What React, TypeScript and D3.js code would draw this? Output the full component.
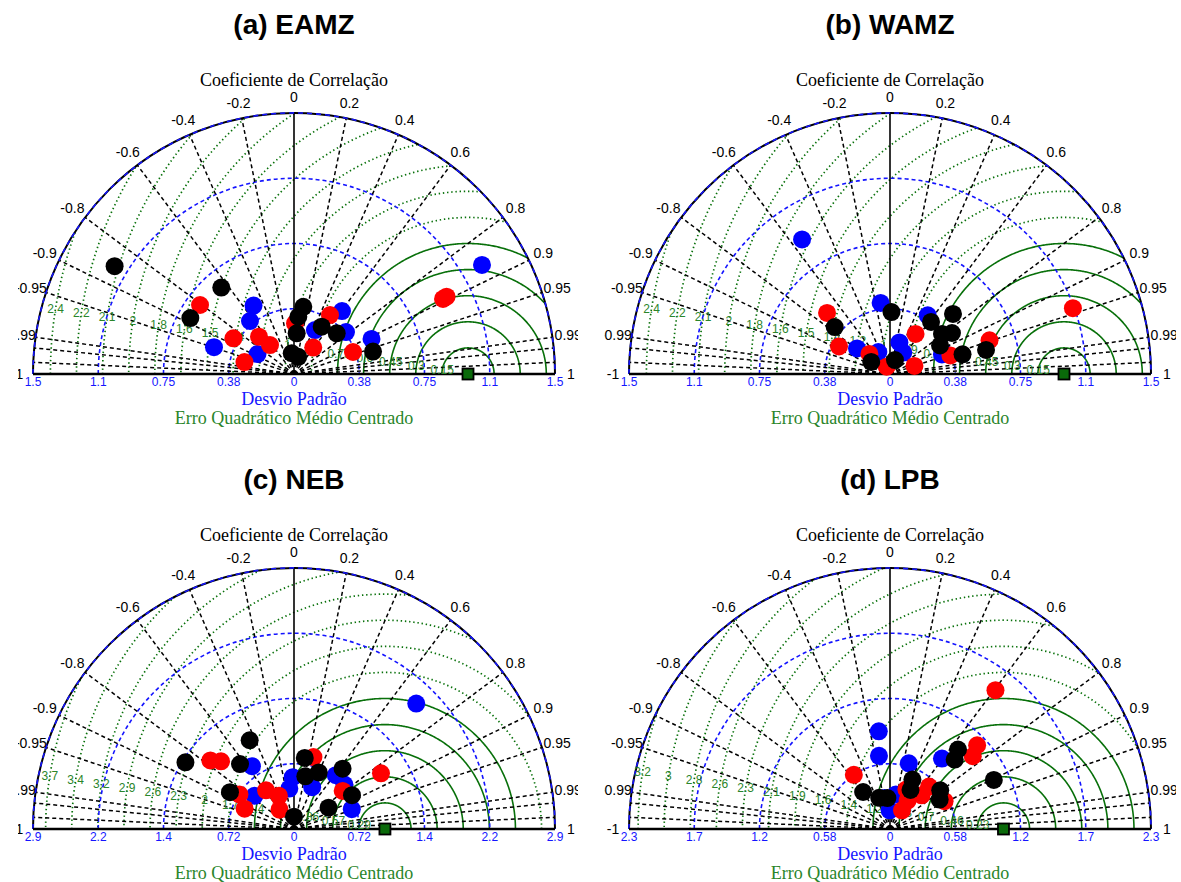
import React from "react";
import * as d3 from "d3";

// ---- panel meta ----
const panelTitles = ["(a) EAMZ", "(b) WAMZ", "(c) NEB", "(d) LPB"];
const stdMaxima = [1.5, 1.5, 2.87, 2.3];
const referenceStd = 1.0;

// radial (standard deviation) tick labels at 0, 1/4, 1/2, 3/4 and full radius
const stdTickLabelsAB = ["0", "0.38", "0.75", "1.1", "1.5"];
const stdTickLabelsC = ["0", "0.72", "1.4", "2.2", "2.9"];
const stdTickLabelsD = ["0", "0.58", "1.2", "1.7", "2.3"];

// centred RMS contour labels (one per contour, contours every stdMax/10)
const rmsLabelsAB = ["0.15", "0.3", "0.45", "0.6", "0.75", "0.9", "1", "1.2", "1.4", "1.5", "1.6", "1.8", "2", "2.1", "2.2", "2.4"];
const rmsLabelsC = ["0.29", "0.57", "0.86", "1.1", "1.4", "1.7", "2", "2.3", "2.6", "2.9", "3.2", "3.4", "3.7"];
const rmsLabelsD = ["0.23", "0.46", "0.7", "0.93", "1.2", "1.4", "1.6", "1.9", "2.1", "2.3", "2.6", "2.8", "3", "3.2"];

// correlation grid
const corrTicks = [0.2, 0.4, 0.6, 0.8, 0.9, 0.95, 0.99];
const corrExtraLines = [0.995, 0.999];

// ---- data: [normalised standard deviation, correlation] ----
const eamzBlack = [[1.203, -0.857], [0.649, -0.644], [0.677, -0.88], [0.39, 0.137], [0.33, 0.075], [0.234, 0.066], [0.12, -0.11], [0.102, 0.24], [0.315, 0.505], [0.339, 0.724], [0.472, 0.962]];
const eamzRed = [[0.959, 0.893], [0.983, 0.892], [0.67, -0.806], [0.404, -0.862], [0.294, -0.684], [0.216, -0.638], [0.293, -0.972], [0.291, 0.02], [0.397, 0.521], [0.188, 0.588], [0.362, 0.937]];
const eamzBlue = [[1.249, 0.865], [0.457, -0.509], [0.396, -0.639], [0.485, -0.948], [0.239, -0.877], [0.455, 0.606], [0.28, 0.43], [0.384, 0.778], [0.489, 0.911]];

const wamzBlack = [[0.356, 0.024], [0.417, -0.762], [0.128, -0.842], [0.085, 0.336], [0.381, 0.619], [0.5, 0.724], [0.377, 0.793], [0.427, 0.834], [0.331, 0.869], [0.432, 0.965], [0.569, 0.97]];
const wamzRed = [[1.117, 0.941], [0.504, -0.718], [0.333, -0.88], [0.165, -0.716], [0.046, -0.41], [0.148, 0.95], [0.273, 0.538], [0.363, 0.956], [0.604, 0.947]];
const wamzBlue = [[0.924, -0.547], [0.412, -0.131], [0.24, -0.79], [0.143, -0.47], [0.189, 0.286], [0.145, 0.526], [0.401, 0.541], [0.319, 0.936]];

const nebBlack = [[1.091, -0.447], [1.401, -0.852], [0.929, -0.639], [0.79, 0.15], [0.679, 0.4], [0.593, 0.21], [0.852, 0.627], [0.738, 0.864], [0.446, 0.851], [0.136, 0.0], [0.812, -0.867]];
const nebRed = [[1.189, -0.773], [1.095, -0.733], [0.82, 0.261], [1.136, 0.842], [0.679, 0.788], [0.71, -0.845], [0.587, -0.925], [0.525, -0.586], [0.401, -0.412], [0.266, -0.599]];
const nebBlue = [[1.926, 0.698], [0.831, -0.556], [0.57, -0.025], [0.447, -0.115], [0.501, 0.399], [0.749, 0.614], [0.739, 0.75], [0.672, 0.946], [0.567, -0.766]];

const lpbBlack = [[0.922, 0.65], [0.836, 0.682], [1.012, 0.904], [0.478, 0.413], [0.389, 0.464], [0.559, 0.792], [0.509, 0.86], [0.403, -0.588], [0.291, -0.327], [0.274, -0.084]];
const lpbRed = [[1.536, 0.605], [0.574, -0.555], [1.065, 0.721], [0.971, 0.751], [0.377, 0.383], [0.508, 0.677], [0.407, 0.684], [0.54, 0.891], [0.294, 0.527], [0.196, 0.54]];
const lpbBlue = [[0.866, -0.114], [0.652, -0.149], [0.602, 0.275], [0.771, 0.594], [0.278, -0.178], [0.165, -0.02], [0.308, 0.166]];

const SANS = "'Liberation Sans', Arial, sans-serif";
const SERIF = "'Liberation Serif', 'Times New Roman', serif";
const GREEN = "#08700a";
const GREEN_TEXT = "#2a852a";
const BLUE = "#1414ff";

type Pt = number[];

interface PanelProps {
  id: string;
  cx: number;
  cy: number;
  clip: [number, number, number, number];
  title: string;
  stdMax: number;
  stdLabels: string[];
  rmsLabels: string[];
  black: Pt[];
  red: Pt[];
  blue: Pt[];
}

function TaylorPanel(p: PanelProps) {
  const R = 261;
  const { cx, cy, stdMax } = p;
  const rs = d3.scaleLinear().domain([0, stdMax]).range([0, R]);
  const polar = (s: number, c: number): [number, number] => {
    const th = Math.acos(Math.max(-1, Math.min(1, c)));
    return [cx + rs(s) * Math.cos(th), cy - rs(s) * Math.sin(th)];
  };
  const cart = (x: number, y: number): [number, number] => [cx + rs(x), cy - rs(y)];

  const semi = (rad: number) => {
    const path = d3.path();
    path.moveTo(cx - rad, cy);
    path.arc(cx, cy, rad, Math.PI, 2 * Math.PI);
    return path.toString();
  };

  const step = stdMax / 10;
  const rmsVals = p.rmsLabels.map((_, i) => (i + 1) * step);
  const line = d3.line<[number, number]>();
  const thetas = d3.range(0, 361).map((i) => (i / 360) * Math.PI);
  const rmsPath = (v: number) =>
    line(thetas.map((t) => cart(referenceStd + v * Math.cos(t), v * Math.sin(t)))) || "";
  const labelAngle = (171 * Math.PI) / 180;

  const corrAll = [0, ...corrTicks, ...corrTicks.map((c) => -c)];
  const corrLines = [...corrAll.filter((c) => c !== 0), ...corrExtraLines, ...corrExtraLines.map((c) => -c)];
  const corrLabels = [...corrAll, 1, -1];
  const stdFractions = [0, 0.25, 0.5, 0.75, 1];

  const [clx, cly, clw, clh] = p.clip;
  const [rx, ry] = cart(referenceStd, 0);

  return (
    <g>
      <defs>
        <clipPath id={`box-${p.id}`}>
          <rect x={clx} y={cly} width={clw} height={clh} />
        </clipPath>
        <clipPath id={`semi-${p.id}`}>
          <path d={semi(R) + "Z"} />
        </clipPath>
      </defs>
      <text x={cx} y={cy - 340} textAnchor="middle" fontFamily={SANS} fontWeight="bold" fontSize={28}>
        {p.title}
      </text>
      <g clipPath={`url(#box-${p.id})`}>
        {/* RMS contours around the reference point */}
        <g clipPath={`url(#semi-${p.id})`} fill="none">
          {rmsVals.map((v, i) => (
            <path
              key={`rms${i}`}
              d={rmsPath(v)}
              stroke={GREEN}
              strokeWidth={i < 5 ? 1.6 : 1.7}
              strokeDasharray={i < 5 ? undefined : "1.4 2.8"}
            />
          ))}
        </g>
        {/* standard deviation arcs */}
        {[0.25, 0.5, 0.75].map((f) => (
          <path key={`sd${f}`} d={semi(rs(f * stdMax))} fill="none" stroke={BLUE} strokeWidth={1.6} strokeDasharray="4 3" />
        ))}
        {/* correlation rays */}
        {corrLines.map((c) => {
          const [x2, y2] = polar(stdMax, c);
          return <line key={`cl${c}`} x1={cx} y1={cy} x2={x2} y2={y2} stroke="#000" strokeWidth={1.5} strokeDasharray="4 3" />;
        })}
        <line x1={cx} y1={cy} x2={cx} y2={cy - R} stroke="#000" strokeWidth={1.6} />
        <path d={semi(R)} fill="none" stroke="#000" strokeWidth={2} />
        <path d={semi(R)} fill="none" stroke={BLUE} strokeWidth={1.6} strokeDasharray="5 4" />
        <line x1={cx - R} y1={cy} x2={cx + R} y2={cy} stroke="#000" strokeWidth={2.4} />

        {/* correlation labels */}
        {corrLabels.map((c) => {
          const th = Math.acos(c);
          const x = cx + (R + 16) * Math.cos(th);
          const y = cy - (R + 16) * Math.sin(th);
          return (
            <text key={`ct${c}`} x={x} y={y} textAnchor="middle" dominantBaseline="central" fontFamily={SANS} fontSize={14}>
              {String(c)}
            </text>
          );
        })}
        <text x={cx} y={cy - 288} textAnchor="middle" fontFamily={SERIF} fontSize={18}>
          Coeficiente de Correlação
        </text>

        {/* std tick labels on both sides */}
        {stdFractions.map((f, i) =>
          (f === 0 ? [1] : [-1, 1]).map((sgn) => (
            <text
              key={`st${i}${sgn}`}
              x={cx + sgn * rs(f * stdMax)}
              y={cy + 12}
              textAnchor="middle"
              fontFamily={SANS}
              fontSize={12}
              fill={BLUE}
            >
              {p.stdLabels[i]}
            </text>
          ))
        )}
        <text x={cx} y={cy + 31} textAnchor="middle" fontFamily={SERIF} fontSize={18} fill={BLUE}>
          Desvio Padrão
        </text>
        <text x={cx} y={cy + 50} textAnchor="middle" fontFamily={SERIF} fontSize={18} fill={GREEN_TEXT}>
          Erro Quadrático Médio Centrado
        </text>

        {/* RMS labels */}
        {rmsVals.map((v, i) => {
          const [x, y] = cart(referenceStd + v * Math.cos(labelAngle), v * Math.sin(labelAngle));
          return (
            <text key={`rl${i}`} x={x} y={y} textAnchor="middle" dominantBaseline="central" fontFamily={SANS} fontSize={12} fill={GREEN_TEXT}>
              {p.rmsLabels[i]}
            </text>
          );
        })}

        {/* model points */}
        {([
          [p.blue, "#0000ff"],
          [p.red, "#ff0000"],
          [p.black, "#000000"],
        ] as [Pt[], string][]).map(([pts, col]) =>
          pts.map((d, i) => {
            const [x, y] = polar(d[0], d[1]);
            return <circle key={`${col}${i}`} cx={x} cy={y} r={9} fill={col} />;
          })
        )}

        {/* reference */}
        <rect x={rx - 5.5} y={ry - 5.5} width={11} height={11} fill="#0a6a0a" stroke="#000" strokeWidth={1.8} />
      </g>
    </g>
  );
}

export default function App() {
  return (
    <svg width={1181} height={882} style={{ position: "absolute", left: 0, top: 0, background: "#fff" }}>
      <rect width={1181} height={882} fill="#fff" />
      <TaylorPanel id="a" cx={294} cy={374} clip={[18, 0, 560, 441]} title={panelTitles[0]} stdMax={stdMaxima[0]}
        stdLabels={stdTickLabelsAB} rmsLabels={rmsLabelsAB} black={eamzBlack} red={eamzRed} blue={eamzBlue} />
      <TaylorPanel id="b" cx={890} cy={374} clip={[604, 0, 572, 441]} title={panelTitles[1]} stdMax={stdMaxima[1]}
        stdLabels={stdTickLabelsAB} rmsLabels={rmsLabelsAB} black={wamzBlack} red={wamzRed} blue={wamzBlue} />
      <TaylorPanel id="c" cx={294} cy={829} clip={[18, 441, 560, 441]} title={panelTitles[2]} stdMax={stdMaxima[2]}
        stdLabels={stdTickLabelsC} rmsLabels={rmsLabelsC} black={nebBlack} red={nebRed} blue={nebBlue} />
      <TaylorPanel id="d" cx={890} cy={829} clip={[604, 441, 572, 441]} title={panelTitles[3]} stdMax={stdMaxima[3]}
        stdLabels={stdTickLabelsD} rmsLabels={rmsLabelsD} black={lpbBlack} red={lpbRed} blue={lpbBlue} />
    </svg>
  );
}
